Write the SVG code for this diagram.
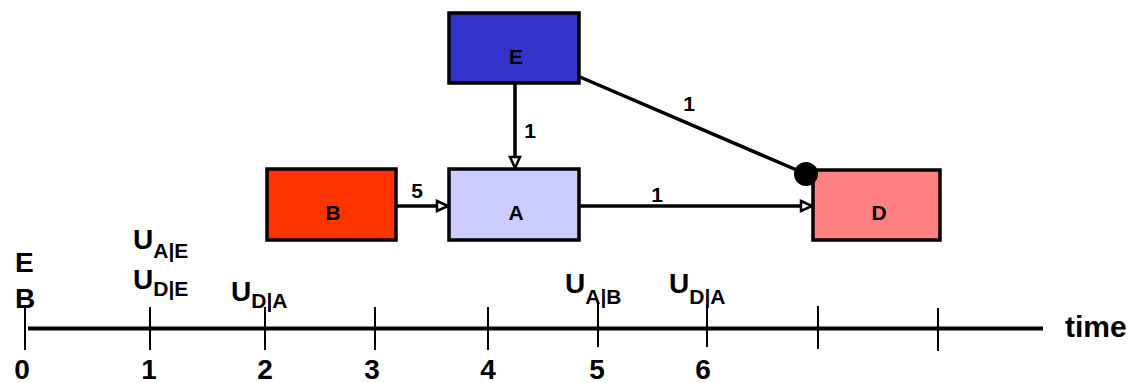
<svg xmlns="http://www.w3.org/2000/svg" width="1135" height="383" viewBox="0 0 1135 383">
<style>
.box{stroke:#000;stroke-width:3.5}
.lbl{font-family:"Liberation Sans",Arial,sans-serif;font-weight:bold;fill:#000}
.node{font-size:21px;text-anchor:middle}
.edge{font-size:21px;text-anchor:middle}
.big{font-size:28px}
.sub{font-size:21px}
.num{font-size:28px;text-anchor:middle}
.conn{stroke:#000;stroke-width:3.5;fill:none}
.tick{stroke:#000;stroke-width:2}
</style>
<defs>
<marker id="open" markerUnits="userSpaceOnUse" markerWidth="16" markerHeight="14" refX="13" refY="7" orient="auto">
<path d="M2,2 L13,7 L2,12 Z" fill="#fff" stroke="#000" stroke-width="2.5"/>
</marker>
</defs>
<g id="connectors">
<line class="conn" x1="515" y1="84" x2="515" y2="168" marker-end="url(#open)"/>
<line class="conn" x1="397" y1="206" x2="448" y2="206" marker-end="url(#open)"/>
<line class="conn" x1="580" y1="206" x2="812" y2="206" marker-end="url(#open)"/>
<line class="conn" x1="580" y1="77" x2="806" y2="174"/>
<text class="lbl edge" x="530" y="138">1</text>
<text class="lbl edge" x="417" y="198">5</text>
<text class="lbl edge" x="657" y="202">1</text>
<text class="lbl edge" x="689" y="111">1</text>
</g>
<g id="node-E">
<rect class="box" x="449" y="13" width="130" height="70" fill="#3333CC"/>
<text class="lbl node" x="516" y="64">E</text>
</g>
<g id="node-A">
<rect class="box" x="449" y="169" width="130" height="71" fill="#CCCCFF"/>
<text class="lbl node" x="516" y="220">A</text>
</g>
<g id="node-B">
<rect class="box" x="267" y="169" width="129" height="71" fill="#FF3300"/>
<text class="lbl node" x="333" y="220">B</text>
</g>
<g id="node-D">
<rect class="box" x="813" y="170" width="127" height="70" fill="#FF8080"/>
<text class="lbl node" x="879" y="220">D</text>
</g>
<circle cx="806" cy="174" r="12" fill="#000"/>
<g id="timeline">
<line x1="28" y1="328.5" x2="1043" y2="328.5" stroke="#000" stroke-width="4"/>
<line class="tick" x1="25" y1="307" x2="25" y2="350"/>
<line class="tick" x1="150" y1="307" x2="150" y2="350"/>
<line class="tick" x1="265" y1="307" x2="265" y2="350"/>
<line class="tick" x1="375" y1="307" x2="375" y2="350"/>
<line class="tick" x1="488" y1="307" x2="488" y2="350"/>
<line class="tick" x1="598" y1="304" x2="598" y2="347"/>
<line class="tick" x1="707" y1="304" x2="707" y2="347"/>
<line class="tick" x1="818" y1="306" x2="818" y2="349"/>
<line class="tick" x1="938" y1="308" x2="938" y2="351"/>
<text class="lbl num" x="22" y="379">0</text>
<text class="lbl num" x="149" y="379">1</text>
<text class="lbl num" x="265" y="379">2</text>
<text class="lbl num" x="372" y="379">3</text>
<text class="lbl num" x="488" y="379">4</text>
<text class="lbl num" x="597" y="379">5</text>
<text class="lbl num" x="703" y="379">6</text>
<text class="lbl" font-size="30" x="1065" y="337">time</text>
<text class="lbl big" x="15" y="272">E</text>
<text class="lbl big" x="15" y="308">B</text>
<text class="lbl" x="133" y="249"><tspan class="big">U</tspan><tspan class="sub" dy="9">A|E</tspan></text>
<text class="lbl" x="133" y="289"><tspan class="big">U</tspan><tspan class="sub" dy="7">D|E</tspan></text>
<text class="lbl" x="231" y="301"><tspan class="big">U</tspan><tspan class="sub" dy="7">D|A</tspan></text>
<text class="lbl" x="565" y="293"><tspan class="big">U</tspan><tspan class="sub" dy="11">A|B</tspan></text>
<text class="lbl" x="669" y="293"><tspan class="big">U</tspan><tspan class="sub" dy="11">D|A</tspan></text>
</g>
</svg>
